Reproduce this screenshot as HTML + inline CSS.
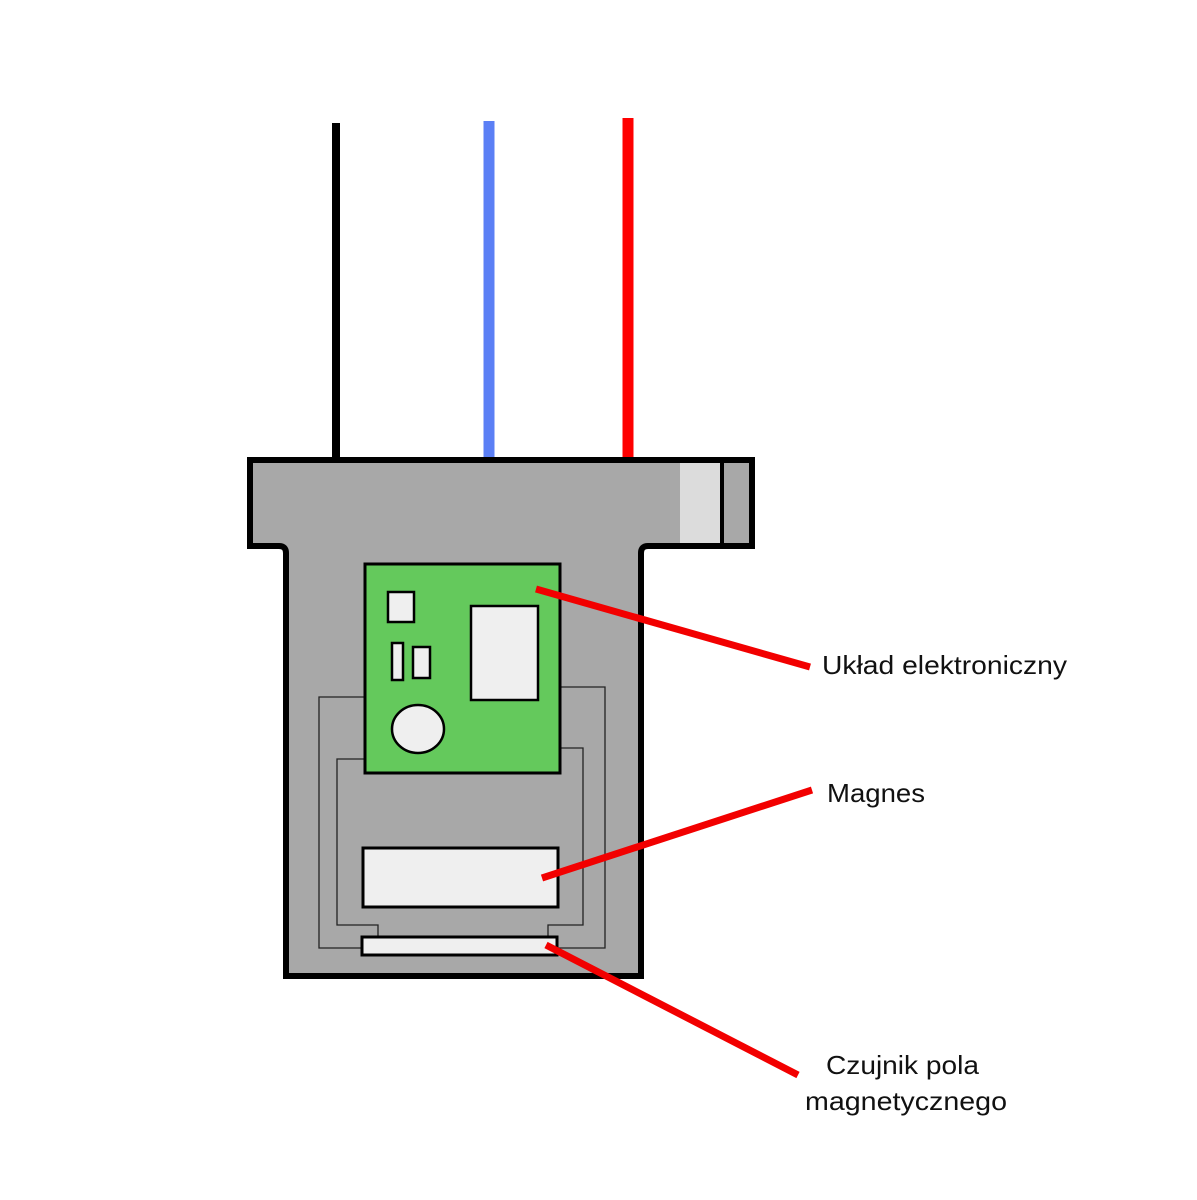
<!DOCTYPE html>
<html><head><meta charset="utf-8"><style>
html,body{margin:0;padding:0;background:#fff;}
svg{display:block;}
text{font-family:"Liberation Sans",sans-serif;fill:#111;font-size:26px;}
</style></head><body>
<svg width="1197" height="1200" viewBox="0 0 1197 1200" xmlns="http://www.w3.org/2000/svg">
<rect width="1197" height="1200" fill="#fff"/>
<!-- wires -->
<line x1="336" y1="123" x2="336" y2="460" stroke="#000" stroke-width="8"/>
<line x1="489" y1="121" x2="489" y2="460" stroke="#5b7ff5" stroke-width="11"/>
<line x1="628" y1="118" x2="628" y2="460" stroke="#f00" stroke-width="11"/>
<!-- housing -->
<path d="M250,460 H752 V546 H648 Q641,546 641,553 V976 H286 V553 Q286,546 279,546 H250 Z" fill="#a8a8a8" stroke="#000" stroke-width="6"/>
<rect x="680" y="463" width="42" height="80" fill="#dcdcdc"/>
<line x1="722" y1="463" x2="722" y2="543" stroke="#000" stroke-width="4"/>
<!-- thin wires -->
<g fill="none" stroke="#222" stroke-width="1.3">
<polyline points="364,697 319,697 319,948 362,948"/>
<polyline points="560,687 605,687 605,948 557,948"/>
<polyline points="364,759 337,759 337,925 378,925 378,937"/>
<polyline points="560,748 583,748 583,925 548,925 548,937"/>
</g>
<!-- PCB -->
<rect x="365" y="564" width="195" height="209" fill="#64c95c" stroke="#000" stroke-width="3"/>
<g fill="#efefef" stroke="#000" stroke-width="2.5">
<rect x="388" y="592" width="26" height="30"/>
<rect x="392" y="643" width="11" height="37"/>
<rect x="413" y="647" width="17" height="31"/>
<rect x="471" y="606" width="67" height="94"/>
<ellipse cx="418" cy="729" rx="26" ry="24"/>
<rect x="363" y="848" width="195" height="59" stroke-width="3"/>
<rect x="362" y="937" width="195" height="18" stroke-width="3"/>
</g>
<!-- leaders -->
<g stroke="#f20000" stroke-width="7">
<line x1="536" y1="589" x2="810" y2="667"/>
<line x1="542" y1="878" x2="812" y2="790"/>
<line x1="546" y1="945" x2="798" y2="1075"/>
</g>
<text x="822" y="674" textLength="245" lengthAdjust="spacingAndGlyphs">Układ elektroniczny</text>
<text x="827" y="802" textLength="98" lengthAdjust="spacingAndGlyphs">Magnes</text>
<text x="826" y="1074" textLength="153" lengthAdjust="spacingAndGlyphs">Czujnik pola</text>
<text x="805" y="1110" textLength="202" lengthAdjust="spacingAndGlyphs">magnetycznego</text>
</svg>
</body></html>
